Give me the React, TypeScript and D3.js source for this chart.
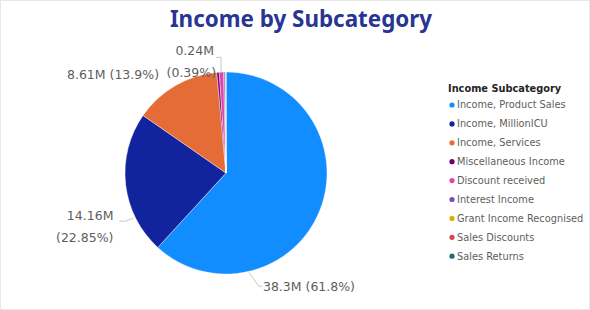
import React from "react";
import * as d3 from "d3";

const categories = [
  "Income, Product Sales",
  "Income, MillionICU",
  "Income, Services",
  "Miscellaneous Income",
  "Discount received",
  "Interest Income",
  "Grant Income Recognised",
  "Sales Discounts",
  "Sales Returns",
];
const values = [38.3, 14.16, 8.61, 0.24, 0.42, 0.14, 0.06, 0.03, 0.01];
const valueLabels = ["38.3M", "14.16M", "8.61M", "0.24M"];
const pctLabels = ["61.8%", "22.85%", "13.9%", "0.39%"];
const colors = [
  "#118DFF",
  "#12239E",
  "#E66C37",
  "#6B007B",
  "#E044A7",
  "#744EC2",
  "#D9B300",
  "#D64550",
  "#197278",
];

const W = 590;
const H = 310;
const cx = 226;
const cy = 173;
const radius = 101;
const titleFont = "'Noto Sans', 'Open Sans', sans-serif";
const font = "'DejaVu Sans', 'Noto Sans', sans-serif";
const labelColor = "#605E5C";
const lineColor = "#C8C6C4";

const App = () => {
  const pie = d3
    .pie<number>()
    .sort(null)
    .value((d) => d);
  const arcs = pie(values);
  const arc = d3.arc<d3.PieArcDatum<number>>().innerRadius(0).outerRadius(radius);

  // point on the rim at angle a (radians, clockwise from 12 o'clock)
  const rim = (a: number, r = radius) => [cx + r * Math.sin(a), cy - r * Math.cos(a)];
  const deg = (x: number) => (x * Math.PI) / 180;

  // product sales: leader goes down-right from bottom of pie
  const [bx, by] = rim(deg(167), radius + 1);
  // millionICU: short leader to the left
  const [nx, ny] = rim(deg(244), radius + 2);
  // misc income: leader up from top
  const misc = arcs[3];
  const [mx, my] = rim((misc.startAngle + misc.endAngle) / 2, radius);

  const legendY = d3.range(categories.length).map((i) => 105 + i * 18.9);

  return (
    <svg
      width={W}
      height={H}
      style={{ position: "absolute", left: 0, top: 0, fontFamily: font }}
    >
      <rect x={0.5} y={0.5} width={W - 1} height={H - 1} fill="#fff" stroke="#E8E8E8" />
      <text
        x={301}
        y={27}
        textAnchor="middle"
        fontSize={22.4}
        fontWeight="bold"
        fontFamily={titleFont}
        fill="#283593"
      >
        Income by Subcategory
      </text>

      <g transform={`translate(${cx},${cy})`}>
        {arcs.map((a, i) => (
          <path key={i} d={arc(a) || ""} fill={colors[i]} stroke="#fff" strokeWidth={0.4} />
        ))}
      </g>

      <g fontSize={12.5} fill={labelColor}>
        {/* 38.3M */}
        <polyline
          points={`${bx},${by} ${bx + 10},${by + 14} ${bx + 13},${by + 14}`}
          fill="none"
          stroke={lineColor}
        />
        <text x={bx + 14} y={by + 19}>
          {`${valueLabels[0]} (${pctLabels[0]})`}
        </text>

        {/* 14.16M */}
        <polyline
          points={`${nx},${ny} ${nx - 8},${ny + 3} ${nx - 14},${ny + 3}`}
          fill="none"
          stroke={lineColor}
        />
        <text x={nx - 20} y={ny + 2} textAnchor="end">
          {valueLabels[1]}
        </text>
        <text x={nx - 20} y={ny + 24} textAnchor="end">
          {`(${pctLabels[1]})`}
        </text>

        {/* 8.61M */}
        <text x={mx - 59} y={my + 7} textAnchor="end">
          {`${valueLabels[2]} (${pctLabels[2]})`}
        </text>

        {/* 0.24M */}
        <polyline
          points={`${mx + 3},${my} ${mx + 3},${my - 15} ${mx - 2},${my - 15}`}
          fill="none"
          stroke={lineColor}
        />
        <text x={mx - 4} y={my - 17} textAnchor="end">
          {valueLabels[3]}
        </text>
        <text x={mx - 2} y={my + 5} textAnchor="end">
          {`(${pctLabels[3]})`}
        </text>
      </g>

      <g>
        <text x={448} y={92} fontSize={9.8} fontWeight="bold" fill="#252423">
          Income Subcategory
        </text>
        {categories.map((c, i) => (
          <g key={c} transform={`translate(452,${legendY[i]})`}>
            <circle r={2.6} fill={colors[i]} />
            <text x={5} y={3.3} fontSize={9.8} fill={labelColor}>
              {c}
            </text>
          </g>
        ))}
      </g>
    </svg>
  );
};

export default App;
